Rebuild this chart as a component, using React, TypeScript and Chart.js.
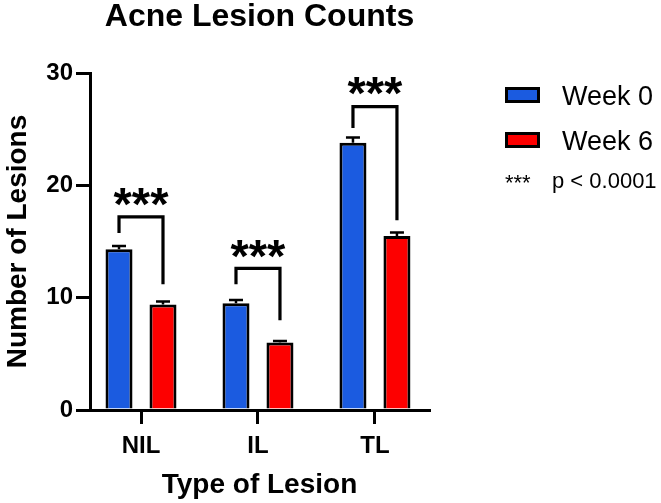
import React, { useEffect, useRef } from "react";
import { Chart, registerables } from "chart.js";

Chart.register(...registerables);

const categories = ["NIL", "IL", "TL"];
const seriesLabels = ["Week 0", "Week 6"];
const week0 = [14.3, 9.5, 23.8];
const week6 = [9.4, 6.0, 15.5];
const week0Err = [0.3, 0.3, 0.45];
const week6Err = [0.25, 0.15, 0.3];
const yTicks = [0, 10, 20, 30];
// significance brackets (values in axis units)
const bracketTop = [17.2, 12.6, 27.0];
const bracketLeftEnd = [15.75, 11.2, 25.1];
const bracketRightEnd = [11.2, 8.0, 16.9];
const starLevel = [19.2, 14.6, 29.1];
const starText = "***";
const pNote = "p < 0.0001";

const BLUE = "#1b5be0";
const RED = "#fd0000";
const FONT = '"Liberation Sans", Arial, Helvetica, sans-serif';

const errors = [week0Err, week6Err];

const annotationsPlugin = {
  id: "annotations",
  afterDatasetsDraw(chart: any) {
    const ctx = chart.ctx;
    const yScale = chart.scales.y;
    ctx.save();
    ctx.strokeStyle = "#000";
    ctx.fillStyle = "#000";
    // error bars (upper)
    chart.data.datasets.forEach((ds: any, i: number) => {
      const meta = chart.getDatasetMeta(i);
      meta.data.forEach((el: any, j: number) => {
        const v = ds.data[j].y;
        const top = yScale.getPixelForValue(v + errors[i][j]);
        ctx.lineWidth = 2.5;
        ctx.beginPath();
        ctx.moveTo(el.x, el.y);
        ctx.lineTo(el.x, top);
        ctx.moveTo(el.x - 7, top);
        ctx.lineTo(el.x + 7, top);
        ctx.stroke();
      });
    });
    // brackets
    const m0 = chart.getDatasetMeta(0);
    const m1 = chart.getDatasetMeta(1);
    categories.forEach((_, j) => {
      const x0 = m0.data[j].x;
      const x1 = m1.data[j].x;
      const yt = yScale.getPixelForValue(bracketTop[j]);
      ctx.lineWidth = 3.2;
      ctx.lineJoin = "miter";
      ctx.beginPath();
      ctx.moveTo(x0, yScale.getPixelForValue(bracketLeftEnd[j]));
      ctx.lineTo(x0, yt);
      ctx.lineTo(x1, yt);
      ctx.lineTo(x1, yScale.getPixelForValue(bracketRightEnd[j]));
      ctx.stroke();
      ctx.font = `bold 47px ${FONT}`;
      ctx.textAlign = "center";
      ctx.textBaseline = "alphabetic";
      ctx.fillText(starText, (x0 + x1) / 2, yScale.getPixelForValue(starLevel[j]) + 26);
    });
    ctx.restore();
  },
  afterDraw(chart: any) {
    const ctx = chart.ctx;
    ctx.save();
    const colors = [BLUE, RED];
    const centers = [95, 140];
    seriesLabels.forEach((lab, i) => {
      const cy = centers[i];
      ctx.fillStyle = colors[i];
      ctx.fillRect(505, cy - 8, 35, 16);
      ctx.strokeStyle = "#000";
      ctx.lineWidth = 3;
      ctx.strokeRect(506.5, cy - 6.5, 32, 13);
      ctx.fillStyle = "#000";
      ctx.font = `27px ${FONT}`;
      ctx.textAlign = "left";
      ctx.textBaseline = "alphabetic";
      ctx.fillText(lab, 562, cy + 9.7);
    });
    ctx.font = `22px ${FONT}`;
    ctx.fillText(starText, 505, 190);
    ctx.fillText(pNote, 552, 188);
    ctx.restore();
  },
};

export default function App() {
  const ref = useRef<HTMLCanvasElement | null>(null);
  useEffect(() => {
    if (!ref.current) return;
    Chart.defaults.font.family = FONT;
    const axisGrid = {
      drawOnChartArea: false,
      drawTicks: true,
      tickLength: 14,
      lineWidth: 3,
      tickWidth: 3,
      color: "#000",
      tickColor: "#000",
      offset: false,
    };
    const chart = new Chart(ref.current, {
      type: "bar",
      data: {
        datasets: [
          {
            label: seriesLabels[0],
            data: week0.map((v, i) => ({ x: i, y: v })),
            backgroundColor: BLUE,
            borderColor: "#000",
            borderWidth: 3,
            categoryPercentage: 0.752,
            barPercentage: 0.614,
          },
          {
            label: seriesLabels[1],
            data: week6.map((v, i) => ({ x: i, y: v })),
            backgroundColor: RED,
            borderColor: "#000",
            borderWidth: 3,
            categoryPercentage: 0.752,
            barPercentage: 0.614,
          },
        ],
      },
      options: {
        animation: false,
        responsive: false,
        devicePixelRatio: 1,
        layout: { padding: { left: 0, right: 232, top: 0, bottom: 0 } },
        plugins: {
          legend: { display: false },
          tooltip: { enabled: false },
          title: {
            display: true,
            text: "Acne Lesion Counts",
            fullSize: false,
            color: "#000",
            font: { size: 32, weight: "bold" },
            padding: { top: -2, bottom: 36.6 },
          },
        },
        scales: {
          x: {
            type: "linear",
            min: -0.436,
            max: 2.462,
            offset: false,
            afterBuildTicks: (s: any) => {
              s.ticks = categories.map((_, i) => ({ value: i }));
            },
            afterFit: (s: any) => {
              s.height = 93;
            },
            ticks: {
              callback: (v: any) => categories[v] ?? "",
              font: { size: 24, weight: "bold" },
              color: "#000",
              padding: 7.6,
              autoSkip: false,
              maxRotation: 0,
            },
            grid: axisGrid,
            border: { color: "#000", width: 3 },
            title: {
              display: true,
              text: "Type of Lesion",
              color: "#000",
              font: { size: 28, weight: "bold" },
              padding: { top: 0, bottom: 0.7 },
            },
          },
          y: {
            min: 0,
            max: 30,
            afterBuildTicks: (s: any) => {
              s.ticks = yTicks.map((v) => ({ value: v }));
            },
            afterFit: (s: any) => {
              s.width = 90;
            },
            ticks: {
              font: { size: 24, weight: "bold" },
              color: "#000",
              padding: 3,
            },
            grid: axisGrid,
            border: { color: "#000", width: 3 },
            title: {
              display: true,
              text: "Number of Lesions",
              color: "#000",
              font: { size: 28, weight: "bold" },
              padding: { top: 1, bottom: 0 },
            },
          },
        },
      } as any,
      plugins: [annotationsPlugin],
    });
    return () => chart.destroy();
  }, []);
  return (
    <div style={{ position: "fixed", left: 0, top: 0, width: 661, height: 503, background: "#fff" }}>
      <canvas ref={ref} width={661} height={503} style={{ display: "block" }} />
    </div>
  );
}
